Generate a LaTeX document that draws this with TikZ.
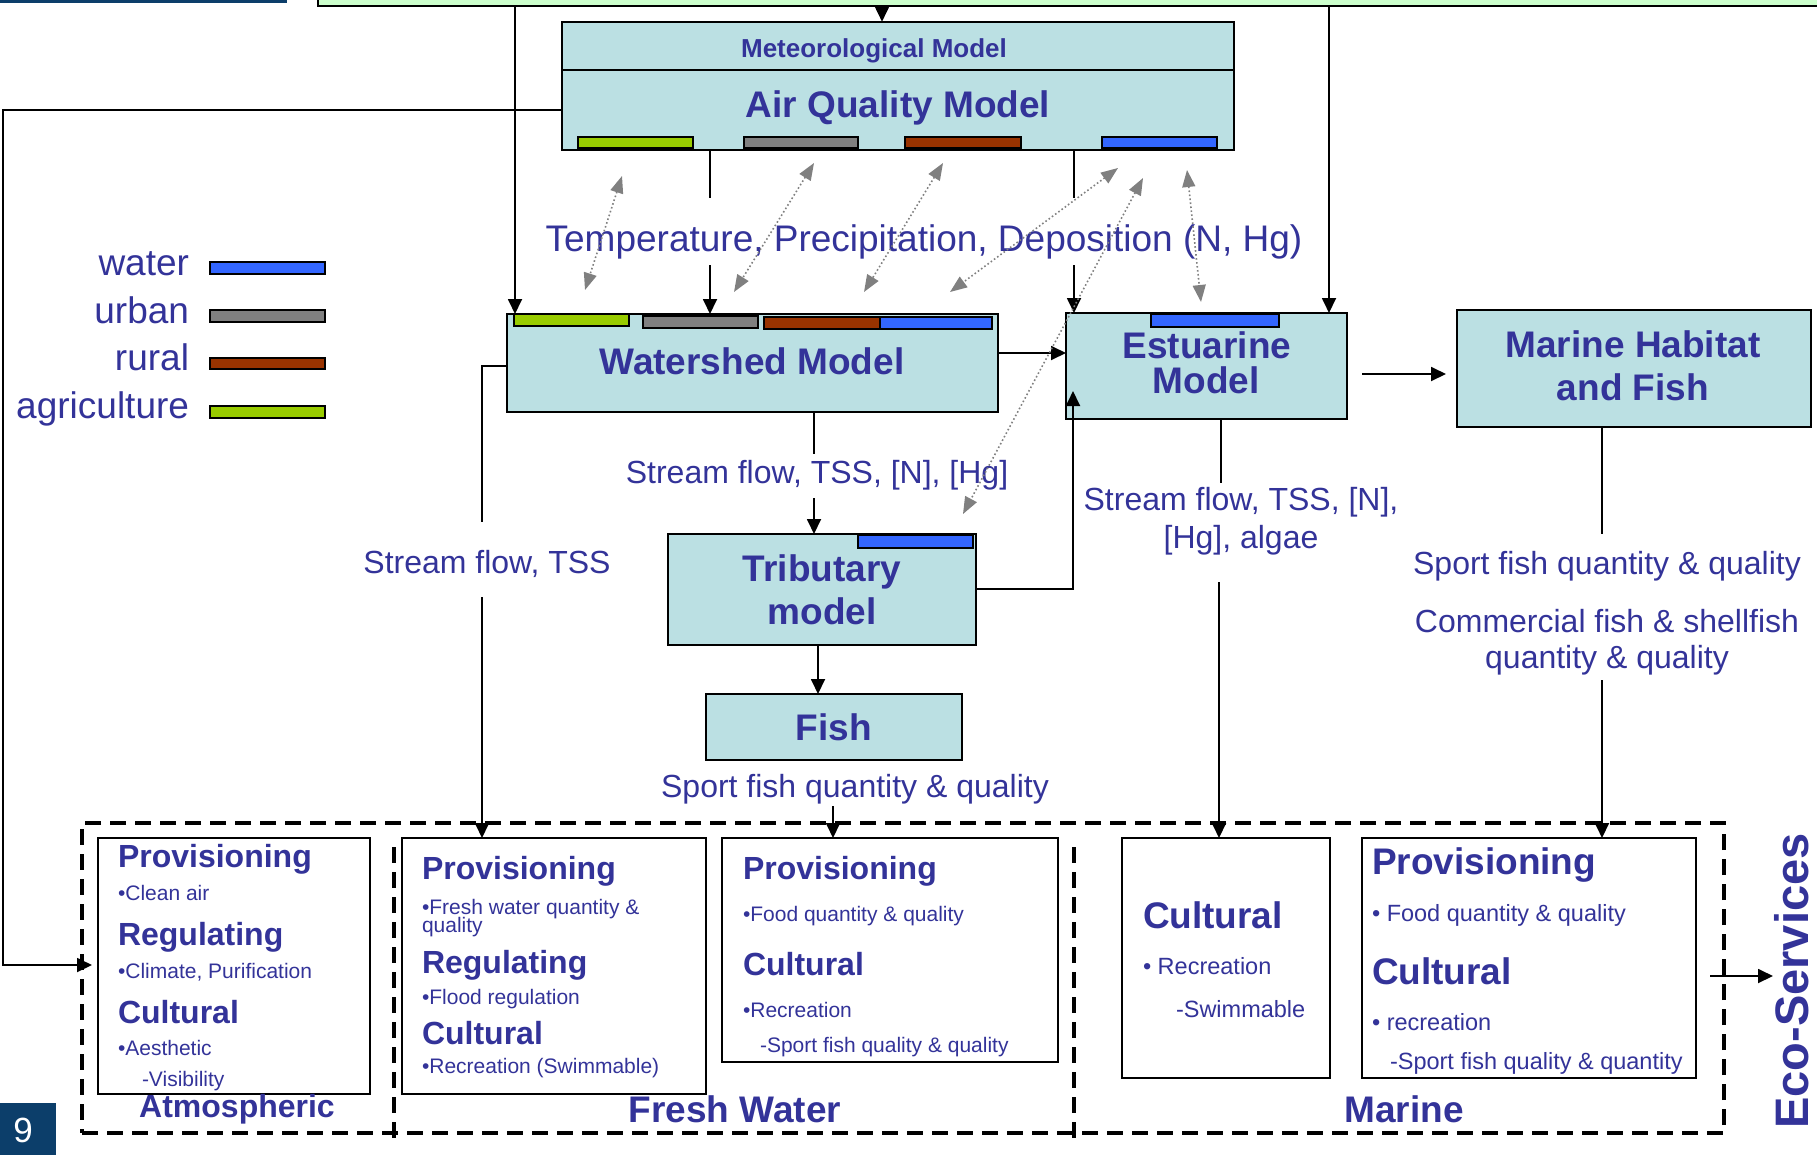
\documentclass[tikz,border=0pt]{standalone}
\usepackage{fontspec}
\setmainfont{Liberation Sans}
\usetikzlibrary{arrows.meta}
\definecolor{txt}{RGB}{51,51,153}
\definecolor{boxfill}{RGB}{187,224,227}
\definecolor{waterc}{RGB}{51,102,255}
\definecolor{urbanc}{RGB}{128,128,128}
\definecolor{ruralc}{RGB}{153,51,0}
\definecolor{agric}{RGB}{153,204,0}
\definecolor{bandgreen}{RGB}{204,255,204}
\definecolor{navyc}{RGB}{12,62,106}
\definecolor{dgray}{RGB}{128,128,128}
\newcommand{\RBox}[6]{\node[#6,anchor=north west,minimum width={(#4)*1pt-(#2)*1pt},minimum height={(#5)*1pt-(#3)*1pt}] (#1) at (#2,#3) {};}
\begin{document}
\begin{tikzpicture}[x=1pt,y=-1pt,
  box/.style={draw=black,line width=2pt,fill=boxfill,inner sep=0pt,outer sep=0pt},
  bar/.style={draw=black,line width=1.5pt,inner sep=0pt,outer sep=0pt},
  sbox/.style={draw=black,line width=2.4pt,fill=white,inner sep=0pt,outer sep=0pt},
  conn/.style={line width=1.8pt},
  arr/.style={conn,-{Triangle[length=15pt,width=14pt]}},
  garr/.style={draw=dgray,line width=1.6pt,dash pattern=on 1.6pt off 2.4pt,{Triangle[length=17pt,width=13pt]}-{Triangle[length=17pt,width=13pt]}},
  dsep/.style={line width=3.8pt,dash pattern=on 16pt off 9pt},
  lb/.style={text=txt,inner sep=0pt,outer sep=0pt,anchor=base},
  lw/.style={lb,anchor=base west},
  fr37/.style={font=\fontsize{37}{37}\selectfont},
  fb37/.style={font=\fontsize{37}{37}\selectfont\bfseries},
  fr32/.style={font=\fontsize{32}{32}\selectfont},
  fb32/.style={font=\fontsize{32}{32}\selectfont\bfseries},
  fb26/.style={font=\fontsize{26}{26}\selectfont\bfseries},
  fr21/.style={font=\fontsize{21}{21}\selectfont},
  fr24/.style={font=\fontsize{23.5}{23.5}\selectfont},
  fb48/.style={font=\fontsize{47}{47}\selectfont\bfseries}]
\useasboundingbox (0,0) rectangle (1817,1154);
\clip (0,0) rectangle (1817,1154);

% top decorations
\RBox{topline}{0}{-3}{287}{2.5}{fill=navyc,inner sep=0pt,outer sep=0pt}
\RBox{band}{318}{-10}{1830}{6}{fill=bandgreen,draw=black,line width=2.5pt,inner sep=0pt,outer sep=0pt}

% meteorological / air quality
\RBox{met}{562}{21.7}{1234}{70}{box}
\RBox{aq}{562}{70}{1234}{150}{box}
\RBox{aqb1}{578}{137}{693}{148}{bar,fill=agric}
\RBox{aqb2}{744}{137}{858}{148}{bar,fill=urbanc}
\RBox{aqb3}{905}{137}{1021}{148}{bar,fill=ruralc}
\RBox{aqb4}{1102}{137}{1217}{148}{bar,fill=waterc}
\node[lb,fb26] (mett) at (874,57) {Meteorological Model};
\node[lb,fb37] (aqt) at (898,117) {Air Quality Model};

% legend
\node[lb,fr37,anchor=base east] (lgw) at (189,275) {water};
\node[lb,fr37,anchor=base east] (lgu) at (189,323) {urban};
\node[lb,fr37,anchor=base east] (lgr) at (189,370) {rural};
\node[lb,fr37,anchor=base east] (lga) at (189,418) {agriculture};
\RBox{lbw}{210}{262}{325}{274}{bar,line width=2pt,fill=waterc}
\RBox{lbu}{210}{310}{325}{322}{bar,line width=2pt,fill=urbanc}
\RBox{lbr}{210}{358}{325}{369}{bar,line width=2pt,fill=ruralc}
\RBox{lba}{210}{406}{325}{418}{bar,line width=2pt,fill=agric}

% temperature label
\node[lb,fr37] (tl) at (924,251) {Temperature, Precipitation, Deposition (N, Hg)};

% watershed
\RBox{ws}{507}{314}{998}{412}{box}
\RBox{wsb1}{514}{314}{629}{326}{bar,fill=agric}
\RBox{wsb2}{643}{316}{758}{328}{bar,fill=urbanc}
\RBox{wsb3}{764}{317}{880}{329}{bar,fill=ruralc}
\RBox{wsb4}{880}{317}{992}{329}{bar,fill=waterc}
\node[lb,fb37] (wst) at (752,374) {Watershed Model};

% tributary
\RBox{trib}{668}{534}{976}{645}{box}
\RBox{tribb}{858}{535}{973}{548}{bar,fill=waterc}
\node[lb,fb37] (tribt1) at (822,581) {Tributary};
\node[lb,fb37] (tribt2) at (822,624) {model};

% fish
\RBox{fish}{706}{694}{962}{760}{box}
\node[lb,fb37] (fisht) at (834,740) {Fish};
\node[lb,fr32] (fishl) at (855,797) {Sport fish quantity \& quality};

% estuarine
\RBox{est}{1066}{313}{1347}{419}{box}
\RBox{estb}{1151}{314}{1279}{327}{bar,fill=waterc}
\node[lb,fb37] (estt1) at (1207,358) {Estuarine};
\node[lb,fb37] (estt2) at (1206,393) {Model};

% marine
\RBox{mar}{1457}{310}{1811}{427}{box}
\node[lb,fb37] (mart1) at (1633,357) {Marine Habitat};
\node[lb,fb37] (mart2) at (1633,400) {and Fish};

% flow labels
\node[lb,fr32] (sfl1) at (817,483) {Stream flow, TSS, [N], [Hg]};
\node[lb,fr32] (sfl2) at (487,573) {Stream flow, TSS};
\node[lb,fr32] (sfl3a) at (1241,510) {Stream flow, TSS, [N],};
\node[lb,fr32] (sfl3b) at (1241,548) {[Hg], algae};
\node[lb,fr32] (mfl1) at (1607,574) {Sport fish quantity \& quality};
\node[lb,fr32] (mfl2) at (1607,632) {Commercial fish \& shellfish};
\node[lb,fr32] (mfl3) at (1607,668) {quantity \& quality};

% bottom section
\RBox{outer}{82}{823}{1724}{1133}{draw=black,line width=3.8pt,dash pattern=on 16pt off 9pt,inner sep=0pt,outer sep=0pt}
\draw[dsep] (394,847) -- (394,1140);
\draw[dsep] (1074,847) -- (1074,1140);
\RBox{A}{98}{838}{370}{1094}{sbox}
\RBox{B}{402}{838}{706}{1094}{sbox}
\RBox{C}{722}{838}{1058}{1062}{sbox}
\RBox{D}{1122}{838}{1330}{1078}{sbox}
\RBox{E}{1362}{838}{1696}{1078}{sbox}

% box A
\node[lw,fb32] (a1) at (118,867) {Provisioning};
\node[lw,fr21] (a2) at (118,900) {•Clean air};
\node[lw,fb32] (a3) at (118,945) {Regulating};
\node[lw,fr21] (a4) at (118,978) {•Climate, Purification};
\node[lw,fb32] (a5) at (118,1023) {Cultural};
\node[lw,fr21] (a6) at (118,1055) {•Aesthetic};
\node[lw,fr21] (a7) at (142,1086) {-Visibility};
% box B
\node[lw,fb32] (b1) at (422,879) {Provisioning};
\node[lw,fr21] (b2) at (422,914) {•Fresh water quantity \&};
\node[lw,fr21] (b3) at (422,932) {quality};
\node[lw,fb32] (b4) at (422,973) {Regulating};
\node[lw,fr21] (b5) at (422,1004) {•Flood regulation};
\node[lw,fb32] (b6) at (422,1044) {Cultural};
\node[lw,fr21] (b7) at (422,1073) {•Recreation (Swimmable)};
% box C
\node[lw,fb32] (c1) at (743,879) {Provisioning};
\node[lw,fr21] (c2) at (743,921) {•Food quantity \& quality};
\node[lw,fb32] (c3) at (743,975) {Cultural};
\node[lw,fr21] (c4) at (743,1017) {•Recreation};
\node[lw,fr21] (c5) at (760,1052) {-Sport fish quality \& quality};
% box D
\node[lw,fb37] (d1) at (1143,928) {Cultural};
\node[lw,fr24] (d2) at (1143,974) {• Recreation};
\node[lw,fr24] (d3) at (1176,1017) {-Swimmable};
% box E
\node[lw,fb37] (e1) at (1372,874) {Provisioning};
\node[lw,fr24] (e2) at (1372,921) {• Food quantity \& quality};
\node[lw,fb37] (e3) at (1372,984) {Cultural};
\node[lw,fr24] (e4) at (1372,1030) {• recreation};
\node[lw,fr24] (e5) at (1390,1069) {-Sport fish quality \& quantity};

\node[lb,fb32] (atm) at (237,1117) {Atmospheric};
\node[lb,fb37] (frw) at (735,1122) {Fresh Water};
\node[lb,fb37] (mrn) at (1404,1122) {Marine};
\node[lb,fb48,rotate=90] (eco) at (1808,981) {Eco-Services};

% page number
\RBox{pg}{0}{1103}{56}{1160}{fill=navyc,inner sep=0pt,outer sep=0pt}
\node[anchor=base,inner sep=0pt,text=white,font=\fontsize{35}{35}\selectfont] (pgt) at (23,1142) {9};

% coordinates
\coordinate (c3) at (3,0);
\coordinate (c515) at (515,0);
\coordinate (c710) at (710,0);
\coordinate (c814) at (814,0);
\coordinate (c818) at (818,0);
\coordinate (c882) at (882,0);
\coordinate (c1074) at (1074,0);
\coordinate (c1221) at (1221,0);
\coordinate (c1329) at (1329,0);
\coordinate (c1602) at (1602,0);
\coordinate (w353) at (0,353);
\coordinate (w366) at (0,366);
\coordinate (w374) at (0,374);
\coordinate (w589) at (0,589);
\coordinate (atmin) at (92,965);
\coordinate (k1) at (710,198);
\coordinate (k2) at (710,265);
\coordinate (k3) at (1074,198);
\coordinate (k4) at (1074,265);
\coordinate (k5) at (814,454);
\coordinate (k6) at (814,498);
\coordinate (k7) at (482,522);
\coordinate (k8) at (482,597);
\coordinate (estin) at (1073,391);
\coordinate (k9) at (833,806);
\coordinate (k10) at (1221,483);
\coordinate (k11) at (1219,582);
\coordinate (k12) at (1602,534);
\coordinate (k13) at (1602,680);
\coordinate (k14) at (1710,976);
\coordinate (k15) at (1773,976);

% connectors
\draw[arr] (band.south -| c882) -- (met.north -| c882);
\draw[arr] (band.south -| c515) -- (ws.north -| c515);
\draw[arr] (band.south -| c1329) -- (est.north -| c1329);
\draw[arr] (aq.west) -- (aq.west -| c3) |- (atmin);
\draw[conn] (aq.south -| c710) -- (k1);
\draw[arr] (k2) -- (ws.north -| c710);
\draw[conn] (aq.south -| c1074) -- (k3);
\draw[arr] (k4) -- (est.north -| c1074);
\draw[conn] (ws.south -| c814) -- (k5);
\draw[arr] (k6) -- (trib.north -| c814);
\draw[conn] (ws.west |- w366) -| (k7);
\draw[arr] (k8) -- (B.north -| k8);
\draw[arr] (ws.east |- w353) -- (est.west |- w353);
\draw[arr] (trib.east |- w589) -| (estin);
\draw[arr] (trib.south -| c818) -- (fish.north -| c818);
\draw[arr] (k9) -- (C.north -| k9);
\draw[arr,shorten <=15pt,shorten >=11pt] (est.east |- w374) -- (mar.west |- w374);
\draw[conn] (est.south -| c1221) -- (k10);
\draw[arr] (k11) -- (D.north -| k11);
\draw[conn] (mar.south -| c1602) -- (k12);
\draw[arr] (k13) -- (E.north -| k13);
\draw[arr] (k14) -- (k15);

% dotted exchange arrows
\coordinate (g1a) at (622,176); \coordinate (g1b) at (585,290);
\coordinate (g2a) at (814,163); \coordinate (g2b) at (734,292);
\coordinate (g3a) at (943,163); \coordinate (g3b) at (864,292);
\coordinate (g4a) at (1118,168); \coordinate (g4b) at (950,292);
\coordinate (g5a) at (1143,178); \coordinate (g5b) at (963,514);
\coordinate (g6a) at (1187,170); \coordinate (g6b) at (1201,302);
\draw[garr] (g1a) -- (g1b);
\draw[garr] (g2a) -- (g2b);
\draw[garr] (g3a) -- (g3b);
\draw[garr] (g4a) -- (g4b);
\draw[garr] (g5a) -- (g5b);
\draw[garr] (g6a) -- (g6b);
\end{tikzpicture}
\end{document}
